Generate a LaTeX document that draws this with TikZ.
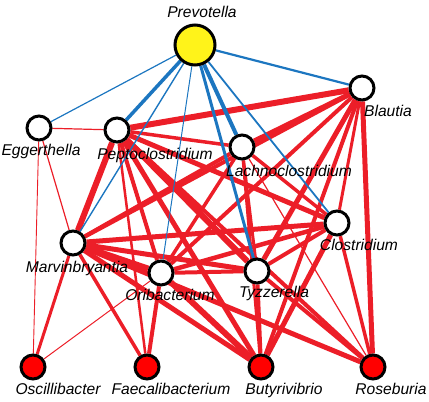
\documentclass[tikz,border=0pt]{standalone}
\usepackage{fontspec}
\setmainfont{Liberation Sans}
\usetikzlibrary{backgrounds}
\definecolor{posred}{RGB}{236,30,40}
\definecolor{negblue}{RGB}{28,118,192}
\tikzset{
  taxon/.style={circle, draw=black, line width=3pt, fill=white, minimum size=24pt, inner sep=0pt},
  butyrate/.style={taxon, fill=red},
  hub/.style={taxon, fill=yellow!90!white, minimum size=40pt},
  taxlabel/.style={font=\fontsize{15.6pt}{18pt}\selectfont\itshape, inner sep=0pt, text height=11pt, text depth=3pt},
  pos/.style={draw=posred, line width=#1},
  neg/.style={draw=negblue, line width=#1}
}

\begin{document}
\begin{tikzpicture}
  \useasboundingbox (0pt,0pt) rectangle (429pt,-402pt);
  \node[hub] (pre) at (195pt,-45pt) {};
  \node[taxon] (egg) at (39pt,-128pt) {};
  \node[taxon] (pep) at (117pt,-130pt) {};
  \node[taxon] (lac) at (242pt,-147pt) {};
  \node[taxon] (bla) at (362pt,-88pt) {};
  \node[taxon] (clo) at (337pt,-223pt) {};
  \node[taxon] (mar) at (73pt,-243pt) {};
  \node[taxon] (ori) at (161pt,-273pt) {};
  \node[taxon] (tyz) at (257pt,-271pt) {};
  \node[butyrate] (osc) at (33pt,-367pt) {};
  \node[butyrate] (fae) at (147pt,-367pt) {};
  \node[butyrate] (but) at (261pt,-367pt) {};
  \node[butyrate] (ros) at (373pt,-367pt) {};

  \begin{pgfonlayer}{background}
  % positive correlations
  \draw[pos=1.2pt] (egg) -- (pep);
  \draw[pos=1.2pt] (egg) -- (mar);
  \draw[pos=0.9pt] (egg) -- (osc);
  \draw[pos=3pt] (osc) -- (mar);
  \draw[pos=1pt] (osc) -- (ori);
  \draw[pos=3.5pt] (fae) -- (mar);
  \draw[pos=2.5pt] (fae) -- (pep);
  \draw[pos=4pt] (fae) -- (ori);
  \draw[pos=6pt] (pep) -- (bla);
  \draw[pos=3.5pt] (pep) -- (lac);
  \draw[pos=5pt] (pep) -- (clo);
  \draw[pos=6pt] (pep) -- (tyz);
  \draw[pos=4pt] (pep) -- (ori);
  \draw[pos=6pt] (pep) -- (mar);
  \draw[pos=5pt] (pep) -- (but);
  \draw[pos=4pt] (pep) -- (ros);
  \draw[pos=5pt] (lac) -- (bla);
  \draw[pos=4pt] (lac) -- (mar);
  \draw[pos=3.5pt] (lac) -- (ori);
  \draw[pos=3pt] (lac) -- (tyz);
  \draw[pos=3.5pt] (lac) -- (clo);
  \draw[pos=3pt] (lac) -- (but);
  \draw[pos=1.2pt] (lac) -- (ros);
  \draw[pos=4pt] (bla) -- (mar);
  \draw[pos=4pt] (bla) -- (ori);
  \draw[pos=5pt] (bla) -- (tyz);
  \draw[pos=3pt] (bla) -- (clo);
  \draw[pos=4pt] (bla) -- (but);
  \draw[pos=5pt] (bla) -- (ros);
  \draw[pos=5pt] (clo) -- (mar);
  \draw[pos=4.5pt] (clo) -- (ori);
  \draw[pos=4pt] (clo) -- (tyz);
  \draw[pos=5pt] (clo) -- (but);
  \draw[pos=3.5pt] (clo) -- (ros);
  \draw[pos=6pt] (mar) -- (ori);
  \draw[pos=5pt] (mar) -- (tyz);
  \draw[pos=5pt] (mar) -- (but);
  \draw[pos=5pt] (mar) -- (ros);
  \draw[pos=4pt] (ori) -- (tyz);
  \draw[pos=6pt] (ori) -- (but);
  \draw[pos=4pt] (tyz) -- (but);
  \draw[pos=4pt] (tyz) -- (ros);
  % negative correlations with Prevotella
  \draw[neg=1.2pt] (pre) -- (egg);
  \draw[neg=3.5pt] (pre) -- (pep);
  \draw[neg=1.4pt] (pre) -- (mar);
  \draw[neg=1pt] (pre) -- (ori);
  \draw[neg=4pt] (pre) -- (lac);
  \draw[neg=3pt] (pre) -- (tyz);
  \draw[neg=1.8pt] (pre) -- (clo);
  \draw[neg=2.2pt] (pre) -- (bla);
  \end{pgfonlayer}

  % labels
  \node[taxlabel] (pre-l) at (202pt,-13pt) {Prevotella};
  \node[taxlabel] (egg-l) at (41pt,-151pt) {Eggerthella};
  \node[taxlabel] (pep-l) at (155pt,-155pt) {Peptoclostridium};
  \node[taxlabel] (lac-l) at (289pt,-172pt) {Lachnoclostridium};
  \node[taxlabel] (bla-l) at (388pt,-112pt) {Blautia};
  \node[taxlabel] (clo-l) at (359pt,-246pt) {Clostridium};
  \node[taxlabel] (mar-l) at (77pt,-268pt) {Marvinbryantia};
  \node[taxlabel] (ori-l) at (170pt,-296pt) {Oribacterium};
  \node[taxlabel] (tyz-l) at (274pt,-293pt) {Tyzzerella};
  \node[taxlabel] (osc-l) at (58pt,-390pt) {Oscillibacter};
  \node[taxlabel] (fae-l) at (171pt,-390pt) {Faecalibacterium};
  \node[taxlabel] (but-l) at (284pt,-390pt) {Butyrivibrio};
  \node[taxlabel] (ros-l) at (391pt,-390pt) {Roseburia};
\end{tikzpicture}
\end{document}
